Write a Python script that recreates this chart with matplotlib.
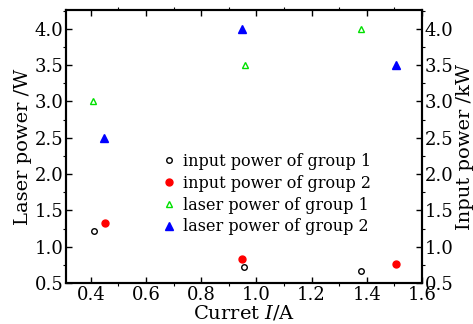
import matplotlib
matplotlib.use('Agg')
import matplotlib.pyplot as plt
from matplotlib.ticker import MultipleLocator

plt.rcParams['font.family'] = 'DejaVu Serif'
plt.rcParams['mathtext.fontset'] = 'dejavuserif'

# data
cur_in1 = [0.41, 0.955, 1.378]
inp_g1 = [1.21, 0.72, 0.67]
cur_in2 = [0.45, 0.947, 1.505]
inp_g2 = [1.33, 0.83, 0.757]
cur_l1 = [0.408, 0.957, 1.378]
las_g1 = [3.0, 3.5, 4.0]
cur_l2 = [0.449, 0.947, 1.505]
las_g2 = [2.5, 4.0, 3.5]

fig = plt.figure(figsize=(4.73, 3.24), dpi=100)
ax = fig.add_axes([66/473, 1 - 283/324, 356/473, 273/324])
ax2 = ax.twinx()

h1, = ax2.plot(cur_in1, inp_g1, 'o', mfc='none', mec='black', ms=4, mew=1.0,
               label='input power of group 1')
h2, = ax2.plot(cur_in2, inp_g2, 'o', color='red', ms=5, label='input power of group 2')
h3, = ax.plot(cur_l1, las_g1, '^', mfc='none', mec='#00e000', ms=5, mew=1.0,
              label='laser power of group 1')
h4, = ax.plot(cur_l2, las_g2, '^', color='blue', ms=5.5, label='laser power of group 2')

for a in (ax, ax2):
    a.set_ylim(0.5, 4.26)
    a.yaxis.set_major_locator(MultipleLocator(0.5))
    a.yaxis.set_minor_locator(MultipleLocator(0.25))
    a.tick_params(labelsize=13, direction='in')
    a.tick_params(which='major', length=4, width=1)
    a.tick_params(which='minor', length=2.5, width=0.8)

ax.set_xlim(0.31, 1.6)
ax.xaxis.set_major_locator(MultipleLocator(0.2))
ax.xaxis.set_minor_locator(MultipleLocator(0.1))
ax.tick_params(which='both', top=True, right=False)
ax.tick_params(axis='x', pad=2)
ax.tick_params(axis='y', pad=2)
ax2.tick_params(axis='y', pad=2)

for a in (ax, ax2):
    for s in a.spines.values():
        s.set_linewidth(1.5)

ax.set_xlabel('Curret $I$/A', fontsize=14, labelpad=0)
ax.set_ylabel('Laser power /W', fontsize=14, labelpad=2)
ax2.set_ylabel('Input power /kW', fontsize=14, labelpad=2)

ax2.legend(handles=[h1, h2, h3, h4], loc='center', bbox_to_anchor=(0.565, 0.325),
           frameon=False, fontsize=11.5, handlelength=0.8, handletextpad=0.5,
           labelspacing=0.3, borderpad=0)

fig.savefig('out.png', dpi=100)
